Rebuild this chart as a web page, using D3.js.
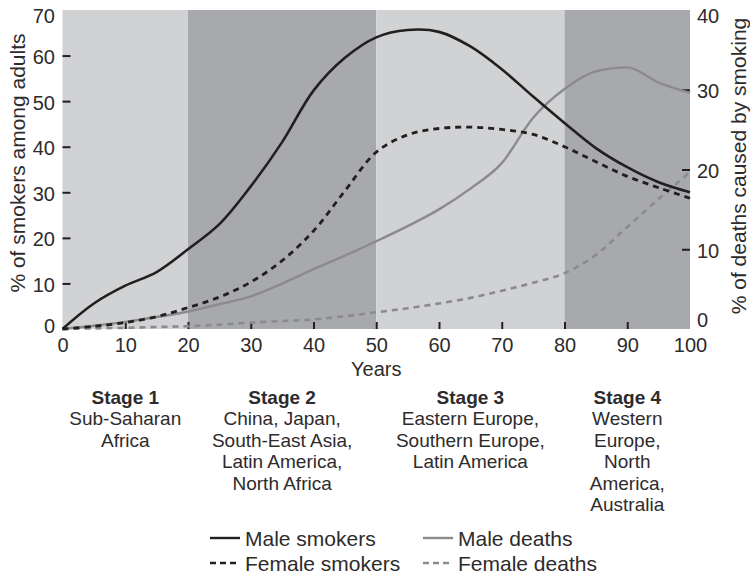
<!DOCTYPE html>
<html>
<head>
<meta charset="utf-8">
<script src="https://cdn.jsdelivr.net/npm/d3@7"></script>
<style>
  body { margin: 0; background: #fff; }
  svg text { font-family: "Liberation Sans", Helvetica, Arial, sans-serif; fill: #2e2b2c; }
</style>
</head>
<body>
<svg id="chart" width="750" height="579"></svg>
<script>
// values
const years = [0, 5, 10, 15, 20, 25, 30, 35, 40, 45, 50, 55, 60, 65, 70, 75, 80, 85, 90, 95, 100]
const maleSmokers = [0, 5.6, 9.5, 12.5, 17.5, 23, 31.3, 41, 52.3, 59.5, 64, 65.6, 65.2, 62, 57, 51, 45.2, 39.7, 35.5, 32.2, 30]
const femaleSmokers = [0, 0.6, 1.4, 2.7, 4.7, 7, 10.3, 15, 21.5, 30.3, 38.8, 42.6, 44, 44.3, 43.8, 42.7, 40, 36.7, 33.5, 31, 28.7]
const maleDeaths = [0, 0.4, 0.9, 1.5, 2.2, 3.1, 4.1, 5.7, 7.5, 9.2, 11, 12.9, 15, 17.6, 20.8, 26.5, 30.1, 32.3, 32.8, 30.9, 29.6]
const femaleDeaths = [0, 0.08, 0.15, 0.25, 0.35, 0.55, 0.8, 1, 1.2, 1.6, 2.1, 2.6, 3.2, 3.9, 4.8, 5.8, 7, 9.3, 12.8, 16.3, 19.7]

const xTicks = [0, 10, 20, 30, 40, 50, 60, 70, 80, 90, 100]
const leftTicks = [0, 10, 20, 30, 40, 50, 60, 70]
const rightTicks = [0, 10, 20, 30, 40]

const stageBands = [[0, 20], [20, 50], [50, 80], [80, 100]]
const stageNames = ['Stage 1', 'Stage 2', 'Stage 3', 'Stage 4']
const stageRegions = [
    ['Sub-Saharan', 'Africa'],
    ['China, Japan,', 'South-East Asia,', 'Latin America,', 'North Africa'],
    ['Eastern Europe,', 'Southern Europe,', 'Latin America'],
    ['Western', 'Europe,', 'North', 'America,', 'Australia']
]

const ink = '#231f20'
const deathGrey = '#8b8b8e'
const bandColors = ['#d1d2d4', '#a8a9ac', '#d1d2d4', '#a8a9ac']

const series = [
    { name: 'Female deaths', values: femaleDeaths, axis: 'right', color: deathGrey, dash: '6,5', width: 2.6, curve: d3.curveCatmullRom },
    { name: 'Male deaths', values: maleDeaths, axis: 'right', color: deathGrey, dash: null, width: 2.4, curve: d3.curveMonotoneX },
    { name: 'Female smokers', values: femaleSmokers, axis: 'left', color: ink, dash: '6,5', width: 2.8, curve: d3.curveCatmullRom },
    { name: 'Male smokers', values: maleSmokers, axis: 'left', color: ink, dash: null, width: 2.6, curve: d3.curveCatmullRom }
]

const svg = d3.select('#chart')
const plotLeft = 62.5, plotRight = 690, plotTop = 10, plotBottom = 329

const x = d3.scaleLinear().domain([0, 100]).range([plotLeft, plotRight])
const yLeft = d3.scaleLinear().domain([0, 70]).range([plotBottom, plotTop])
const yRight = d3.scaleLinear().domain([0, 40]).range([plotBottom, plotTop])

// stage bands
svg.append('g')
    .selectAll('rect')
    .data(stageBands)
    .enter()
    .append('rect')
    .attr('x', d => x(d[0]))
    .attr('y', plotTop)
    .attr('width', d => x(d[1]) - x(d[0]))
    .attr('height', plotBottom - plotTop)
    .attr('fill', (d, i) => bandColors[i])

// axes: no domain line, no tick marks at the ends, end labels nudged inward
const styleAxis = (g, ends, nudge) => {
    g.select('.domain').remove()
    g.selectAll('.tick line')
        .attr('stroke', ink)
        .attr('stroke-width', 2)
        .attr('display', d => ends.includes(d) ? 'none' : null)
    g.selectAll('.tick text')
        .style('font-size', '20px')
        .attr('fill', '#2e2b2c')
    if (nudge) {
        g.selectAll('.tick text')
            .attr('dy', '0.4em')
            .attr('transform', d => nudge[d] ? `translate(0, ${nudge[d]})` : null)
    }
}

svg.append('g')
    .attr('transform', `translate(0, ${plotBottom})`)
    .call(d3.axisBottom(x).tickValues(xTicks).tickSize(-7).tickPadding(8.5))
    .call(g => styleAxis(g, [0, 100]))

svg.append('g')
    .attr('transform', `translate(${plotLeft}, 0)`)
    .call(d3.axisLeft(yLeft).tickValues(leftTicks).tickSize(-8).tickPadding(7.5))
    .call(g => styleAxis(g, [0, 70], { 0: -5, 70: 4 }))

svg.append('g')
    .attr('transform', `translate(${plotRight}, 0)`)
    .call(d3.axisRight(yRight).tickValues(rightTicks).tickSize(-8).tickPadding(7))
    .call(g => styleAxis(g, [0, 40], { 0: -11, 40: 4 }))

// axis titles
svg.append('text')
    .attr('transform', 'translate(25, 163) rotate(-90)')
    .attr('text-anchor', 'middle')
    .style('font-size', '21px')
    .text('% of smokers among adults')

svg.append('text')
    .attr('transform', 'translate(746, 166) rotate(-90)')
    .attr('text-anchor', 'middle')
    .style('font-size', '21px')
    .text('% of deaths caused by smoking')

svg.append('text')
    .attr('x', x(50))
    .attr('y', 376)
    .attr('text-anchor', 'middle')
    .style('font-size', '20px')
    .text('Years')

// curves
series.forEach(s => {
    const yScale = s.axis === 'left' ? yLeft : yRight
    const line = d3.line()
        .x((d, i) => x(years[i]))
        .y(d => yScale(d))
        .curve(s.curve)
    svg.append('path')
        .datum(s.values)
        .attr('d', line)
        .attr('fill', 'none')
        .attr('stroke', s.color)
        .attr('stroke-width', s.width)
        .attr('stroke-dasharray', s.dash)
})

// stage labels under the axis
const stage = svg.append('g')
    .selectAll('text')
    .data(stageBands)
    .enter()
    .append('text')
    .attr('text-anchor', 'middle')
    .attr('x', d => x((d[0] + d[1]) / 2))
    .attr('y', 404)
    .style('font-size', '19px')

stage.append('tspan')
    .style('font-weight', 'bold')
    .text((d, i) => stageNames[i])

stage.each(function (d, i) {
    d3.select(this).selectAll('tspan.region')
        .data(stageRegions[i])
        .enter()
        .append('tspan')
        .attr('class', 'region')
        .attr('x', x((d[0] + d[1]) / 2))
        .attr('dy', 21.4)
        .text(t => t)
})

// legend
const legendPos = [[210, 538], [423, 538], [210, 563], [423, 563]]
const legendOrder = ['Male smokers', 'Male deaths', 'Female smokers', 'Female deaths']

const legend = svg.append('g')
    .selectAll('g')
    .data(legendOrder.map(n => series.find(s => s.name === n)))
    .enter()
    .append('g')
    .attr('transform', (d, i) => `translate(${legendPos[i][0]}, ${legendPos[i][1]})`)

legend.append('line')
    .attr('x1', 0)
    .attr('x2', 30)
    .attr('stroke', d => d.color)
    .attr('stroke-width', 2.4)
    .attr('stroke-dasharray', d => d.dash ? '6,4' : null)

legend.append('text')
    .attr('x', 35)
    .attr('y', 8)
    .style('font-size', '21px')
    .text(d => d.name)
</script>
</body>
</html>
